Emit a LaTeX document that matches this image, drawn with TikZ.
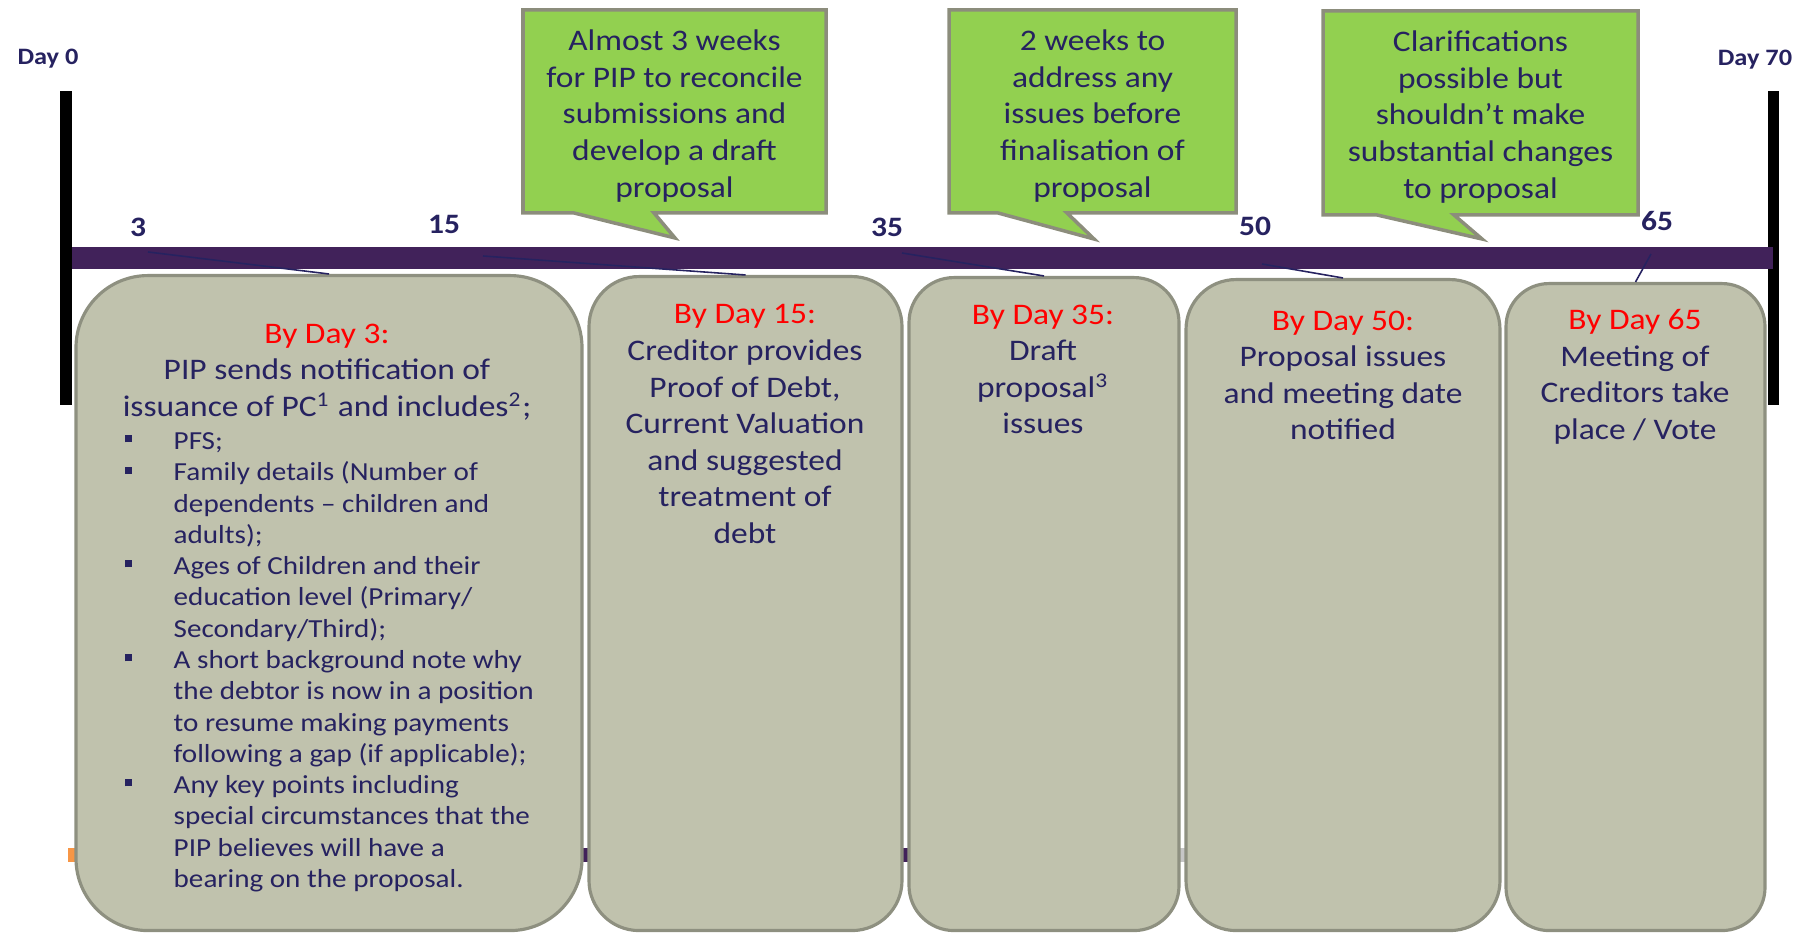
\documentclass[tikz,border=0pt]{standalone}
\usepackage{fontspec}
\setmainfont{Carlito}[FakeStretch=1.12]
\usepackage{xcolor}
\usetikzlibrary{positioning}

\definecolor{navy}{RGB}{38,34,96}
\definecolor{barpurple}{RGB}{65,34,90}
\definecolor{boxfill}{RGB}{192,194,173}
\definecolor{boxline}{RGB}{142,144,128}
\definecolor{calloutgreen}{RGB}{146,208,80}
\definecolor{calloutline}{RGB}{140,141,124}
\definecolor{stuborange}{RGB}{247,150,70}

\newcommand{\sqbullet}{\makebox[0.49cm][l]{\raisebox{0.28em}{\rule{2pt}{2pt}}}}

\begin{document}
\begin{tikzpicture}[
    daybox/.style={draw=boxline, fill=boxfill, line width=0.9pt, inner sep=0pt, anchor=north},
    bubble/.style={draw=calloutline, fill=calloutgreen, line width=1pt, line join=miter},
    bubbletext/.style={align=center, text=navy, inner sep=0pt, font=\fontsize{8.5}{10.45}\selectfont},
    heading/.style={align=center, text=navy, inner sep=0pt, anchor=north, font=\fontsize{8.5}{10.4}\selectfont},
    bulletlist/.style={align=left, text=navy, inner sep=0pt, anchor=north west, font=\fontsize{7.4}{8.9}\selectfont},
    daynum/.style={text=navy, inner sep=0pt, font=\fontsize{8}{9.6}\selectfont\bfseries},
    endlabel/.style={text=navy, inner sep=0pt, font=\fontsize{6.7}{8}\selectfont\bfseries},
    pointer/.style={draw=navy, line width=0.45pt}
]

    \useasboundingbox (0,0) rectangle (18.04,9.33);

    % Bar hidden behind the boxes
    \fill[stuborange] (0.68,0.71) rectangle (1.5,0.85);
    \fill[barpurple] (1.5,0.71) rectangle (10.5,0.85);
    \fill[gray!45] (10.5,0.71) rectangle (11.95,0.85);

    % End markers
    \fill[black] (0.60,5.28) rectangle (0.72,8.42);
    \fill[black] (17.68,5.28) rectangle (17.79,8.42);
    \node[endlabel] (d0) at (0.48,8.74) {Day 0};
    \node[endlabel] (d70) at (17.55,8.73) {Day 70};

    % Timeline
    \fill[barpurple] (0.72,6.64) rectangle (17.73,6.86);

    % Day numbers
    \node[daynum] (n3) at (1.38,7.06) {3};
    \node[daynum] (n15) at (4.44,7.09) {15};
    \node[daynum] (n35) at (8.87,7.06) {35};
    \node[daynum] (n50) at (12.55,7.07) {50};
    \node[daynum] (n65) at (16.57,7.12) {65};

    % Boxes
    \node[daybox, minimum width=5.06cm, minimum height=6.55cm, rounded corners=0.72cm] (b3) at (3.29,6.59) {};
    \node[daybox, minimum width=3.13cm, minimum height=6.54cm, rounded corners=0.5cm] (b15) at (7.455,6.58) {};
    \node[daybox, minimum width=2.70cm, minimum height=6.53cm, rounded corners=0.45cm] (b35) at (10.44,6.57) {};
    \node[daybox, minimum width=3.14cm, minimum height=6.51cm, rounded corners=0.5cm] (b50) at (13.43,6.55) {};
    \node[daybox, minimum width=2.59cm, minimum height=6.47cm, rounded corners=0.43cm] (b65) at (16.355,6.51) {};

    % Lines from the numbers to the boxes
    \coordinate (s3) at (1.48,6.81);
    \coordinate (s15) at (4.83,6.77);
    \coordinate (s35) at (9.02,6.80);
    \coordinate (s50) at (12.62,6.69);
    \coordinate (s65) at (16.51,6.79);
    \draw[pointer] (s3) -- (b3.north);
    \draw[pointer] (s15) -- (b15.north);
    \draw[pointer] (s35) -- (b35.north);
    \draw[pointer] (s50) -- (b50.north);
    \draw[pointer] (s65) -- (b65.north);

    % Box texts
    \node[heading] (t3) at (3.27,6.10) {\textcolor{red}{By Day 3:}\\PIP sends notification of\\issuance of PC\textsuperscript{1} and includes\textsuperscript{2};};
    \node[bulletlist] (l3) at (1.24,5.01) {%
        \sqbullet PFS;\\
        \sqbullet Family details (Number of\\
        \hspace*{0.49cm}dependents -- children and\\
        \hspace*{0.49cm}adults);\\
        \sqbullet Ages of Children and their\\
        \hspace*{0.49cm}education level (Primary/\\
        \hspace*{0.49cm}Secondary/Third);\\
        \sqbullet A short background note why\\
        \hspace*{0.49cm}the debtor is now in a position\\
        \hspace*{0.49cm}to resume making payments\\
        \hspace*{0.49cm}following a gap (if applicable);\\
        \sqbullet Any key points including\\
        \hspace*{0.49cm}special circumstances that the\\
        \hspace*{0.49cm}PIP believes will have a\\
        \hspace*{0.49cm}bearing on the proposal.};
    \node[heading] (t15) at (7.45,6.29) {\textcolor{red}{By Day 15:}\\Creditor provides\\Proof of Debt,\\Current Valuation\\and suggested\\treatment of\\debt};
    \node[heading] (t35) at (10.43,6.29) {\textcolor{red}{By Day 35:}\\Draft\\proposal\textsuperscript{3}\\issues};
    \node[heading] (t50) at (13.43,6.23) {\textcolor{red}{By Day 50:}\\Proposal issues\\and meeting date\\notified};
    \node[heading] (t65) at (16.35,6.24) {\textcolor{red}{By Day 65}\\Meeting of\\Creditors take\\place / Vote};

    % Callouts
    \draw[bubble] (5.23,9.23) -- (8.26,9.23) -- (8.26,7.20) -- (6.54,7.20) -- (6.75,6.95) -- (5.74,7.20) -- (5.23,7.20) -- cycle;
    \node[bubbletext] (c1) at (6.745,8.17) {Almost 3 weeks\\for PIP to reconcile\\submissions and\\develop a draft\\proposal};

    \draw[bubble] (9.49,9.23) -- (12.36,9.23) -- (12.36,7.20) -- (10.67,7.20) -- (10.94,6.94) -- (9.98,7.20) -- (9.49,7.20) -- cycle;
    \node[bubbletext] (c2) at (10.925,8.17) {2 weeks to\\address any\\issues before\\finalisation of\\proposal};

    \draw[bubble] (13.23,9.22) -- (16.38,9.22) -- (16.38,7.18) -- (14.54,7.18) -- (14.82,6.94) -- (13.77,7.18) -- (13.23,7.18) -- cycle;
    \node[bubbletext] (c3) at (14.805,8.16) {Clarifications\\possible but\\shouldn’t make\\substantial changes\\to proposal};
\end{tikzpicture}
\end{document}
